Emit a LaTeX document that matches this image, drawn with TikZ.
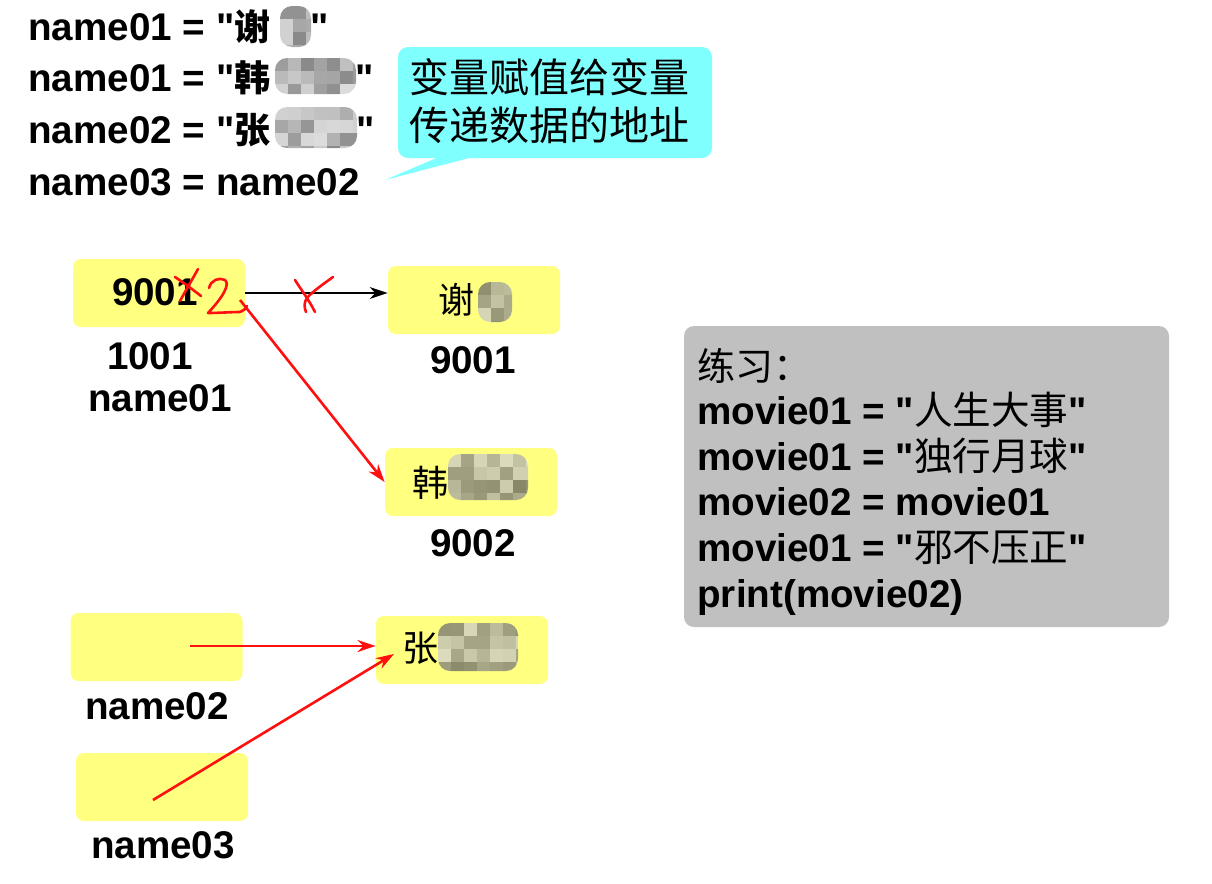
\documentclass[tikz,border=0pt]{standalone}
\usepackage{fontspec}
\setmainfont{Liberation Sans}[Ligatures=TeXOff]
\newfontfamily\cjk{Noto Sans CJK SC}
\usetikzlibrary{arrows.meta}
\definecolor{yellowbg}{HTML}{FFFF80}
\definecolor{cyanbg}{HTML}{80FFFF}
\definecolor{graybg}{HTML}{C0C0C0}
\definecolor{redline}{HTML}{FF1010}
\tikzset{
  membox/.style={fill=yellowbg, rounded corners=4pt, minimum width=86pt, minimum height=34pt, inner sep=0pt},
  txt/.style={font=\fontsize{19.3}{23}\selectfont\bfseries, inner sep=0pt},
  cjktxt/.style={font=\fontsize{18}{22}\selectfont\cjk, inner sep=0pt},
  redarrow/.style={draw=redline, line width=1.3pt, -{Stealth[length=9pt,width=6pt]}},
  blackarrow/.style={draw=black, line width=1pt, -{Stealth[length=9pt,width=6pt]}},
  handmark/.style={draw=redline, line width=1.3pt, line cap=round, line join=round},
}
% mosaic blur: #1,#2 = top-left, #3,#4 = bottom-right (pixels)
\newcommand\mosaicblob[4]{%
  \begin{scope}
    \clip[rounded corners=6pt] (#1,#2) rectangle (#3,#4);
    \foreach \ii in {0,...,8}{%
      \foreach \jj in {0,...,4}{%
        \pgfmathsetmacro\sh{int(18+45*rnd)}%
        \fill[black!\sh, opacity=0.75] ({#1+\ii*13},{#2+\jj*13}) rectangle +(13,13);
      }%
    }%
  \end{scope}%
}
\begin{document}
\begin{tikzpicture}[x=0.5pt,y=-0.5pt]
\pgfmathsetseed{7}
\useasboundingbox (0,0) rectangle (1212,884);
\fill[white] (0,0) rectangle (1212,884);

% code lines
\node[txt, anchor=base west] (l1) at (28,40) {name01 = "{\cjk\fontsize{18}{22}\selectfont 谢}\hspace{20pt}"};
\node[txt, anchor=base west] (l2) at (28,91) {name01 = "{\cjk\fontsize{18}{22}\selectfont 韩}\hspace{42.5pt}"};
\node[txt, anchor=base west] (l3) at (28,143) {name02 = "{\cjk\fontsize{18}{22}\selectfont 张}\hspace{43pt}"};
\node[txt, anchor=base west] (l4) at (28,195) {name03 = name02};
\mosaicblob{280}{6}{311}{47}
\mosaicblob{275}{58}{356}{94}
\mosaicblob{275}{107}{357}{148}

% callout
\fill[cyanbg] (455,150) -- (385,180) -- (500,150) -- cycle;
\node[fill=cyanbg, rounded corners=5pt, minimum width=157pt, minimum height=55.5pt, inner sep=0pt] (call) at (555,102.5) {};
\node[cjktxt, font=\fontsize{20}{24}\selectfont\cjk, anchor=base west] (c1) at (409,92) {变量赋值给变量};
\node[cjktxt, font=\fontsize{20}{24}\selectfont\cjk, anchor=base west] (c2) at (409,140) {传递数据的地址};

% memory boxes
\node[membox] (A) at (159,293) {};
\node[membox] (B) at (474,300) {};
\node[membox] (C) at (471,482) {};
\node[membox] (D) at (156.5,647) {};
\node[membox] (E) at (162,787) {};
\node[membox] (F) at (462,650) {};

\node[txt] (a1) at (155,292) {9001};
\node[txt] (a2) at (150,356) {1001};
\node[txt] (a3) at (160,398) {name01};

\node[cjktxt] (b1) at (456,300) {谢};
\mosaicblob{478}{282}{512}{322}
\node[txt] (b2) at (473,360) {9001};

\node[cjktxt] (c1t) at (430,483) {韩};
\mosaicblob{448}{454}{528}{500}
\node[txt] (c2t) at (473,543) {9002};

\node[cjktxt] (f1) at (420,648) {张};
\mosaicblob{438}{623}{518}{671}
\node[txt] (d1) at (157,706) {name02};
\node[txt] (e1) at (163,845) {name03};

% arrows
\draw[blackarrow] (A.east) -- (A.east -| B.west);
\coordinate (rs) at (240,300);
\draw[redarrow] (rs) -- (C.west);
\coordinate (ds) at (190,646);
\draw[redarrow] (ds) -- (ds -| F.west);
\coordinate (es) at (153,800);
\coordinate (et) at (394,654);
\draw[redarrow] (es) -- (et);

% hand marks
\draw[handmark] (175,277) .. controls (184,283) and (192,289) .. (201,296);
\draw[handmark] (198,269) .. controls (192,280) and (186,290) .. (180,301);
\draw[handmark] (209,288) .. controls (211,280) and (219,277) .. (225,280) .. controls (230,284) and (224,296) .. (208,313) .. controls (218,313) and (232,312) .. (240,312) .. controls (243,311) and (246,309) .. (247,306);
\draw[handmark] (295,280) .. controls (302,291) and (309,300) .. (315,312);
\draw[handmark] (333,277) .. controls (322,285) and (312,292) .. (307,298) .. controls (304,302) and (304,307) .. (306,312);

% exercise box
\node[fill=graybg, rounded corners=5pt, minimum width=242.5pt, minimum height=150.5pt, inner sep=0pt] (G) at (926.5,476.5) {};
\node[cjktxt, font=\fontsize{19}{22}\selectfont\cjk, anchor=base west] (g0) at (697,380) {练习：};
\node[txt, anchor=base west] (g1) at (697,424) {movie01 = "{\cjk\mdseries 人生大事}"};
\node[txt, anchor=base west] (g2) at (697,470) {movie01 = "{\cjk\mdseries 独行月球}"};
\node[txt, anchor=base west] (g3) at (697,515) {movie02 = movie01};
\node[txt, anchor=base west] (g4) at (697,561) {movie01 = "{\cjk\mdseries 邪不压正}"};
\node[txt, anchor=base west] (g5) at (697,607) {print(movie02)};
\end{tikzpicture}
\end{document}
